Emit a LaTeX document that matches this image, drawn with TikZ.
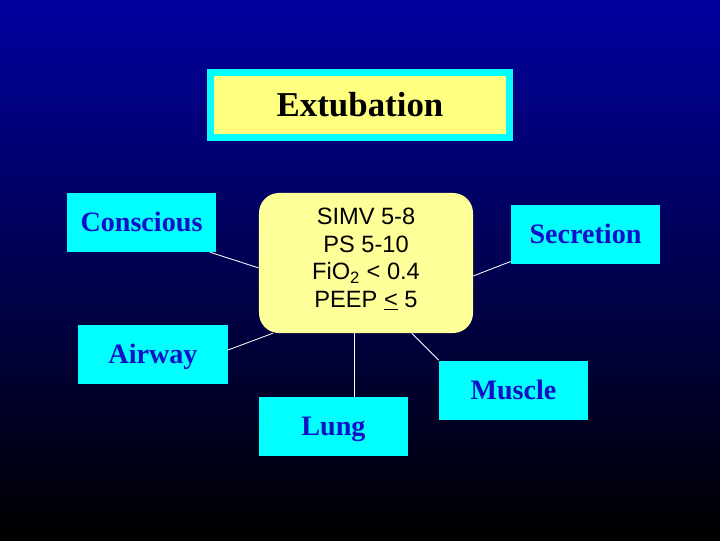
\documentclass[tikz,border=0pt]{standalone}
\usepackage{fontspec}
\setmainfont{Liberation Serif}
\newfontfamily\arialfont{Liberation Sans}
\definecolor{bgtop}{RGB}{0,0,160}
\definecolor{boxcyan}{RGB}{0,255,255}
\definecolor{titleyellow}{RGB}{255,255,128}
\definecolor{ctryellow}{RGB}{255,255,153}
\definecolor{labelblue}{RGB}{16,16,200}
\begin{document}
\begin{tikzpicture}[x=0.025cm,y=-0.025cm,
  labelbox/.style={fill=boxcyan, minimum width=3.725cm, minimum height=1.475cm, inner sep=0pt,
    text height=13.2pt, text depth=0pt,
    text=labelblue, font=\fontsize{20}{24}\selectfont\bfseries},
  conn/.style={draw=white, line width=0.6pt}]
\shade[top color=bgtop, bottom color=black] (0,0) rectangle (720,540);
\useasboundingbox (0,0) rectangle (720,540);
\node[fill=titleyellow, draw=boxcyan, line width=0.175cm, minimum width=7.475cm, minimum height=1.6cm, inner sep=0pt,
  text height=16.4pt, text depth=0pt,
  font=\fontsize{24.8}{28}\selectfont\bfseries] (title) at (360,105) {Extubation};
\node[fill=ctryellow, rounded corners=0.5cm, minimum width=5.35cm, minimum height=3.5cm, inner sep=0pt] (ctr) at (366,263) {};
\node[align=center, font=\arialfont\fontsize{16.8}{19.6}\selectfont, inner sep=0pt] (ctrtext) at (366,259)
  {SIMV 5-8\\PS 5-10\\FiO\textsubscript{2} < 0.4\\PEEP \underline{<} 5};
\node[labelbox] (cons) at (141.5,222.5) {Conscious};
\node[labelbox] (sec) at (585.5,234.5) {Secretion};
\node[labelbox] (air) at (153,354) {Airway};
\node[labelbox] (lung) at (333.5,426.5) {Lung};
\node[labelbox] (mus) at (513.5,390) {Muscle};
\draw[conn] ([xshift=-4.3pt]cons.south east) -- ([yshift=-3.5pt]ctr.west);
\draw[conn] ([yshift=2pt]sec.south west) -- ([yshift=-9.2pt]ctr.east);
\draw[conn] ([yshift=2.8pt]air.east) -- ([xshift=10pt]ctr.south west);
\draw[conn] ([xshift=15.2pt]lung.north) -- ([xshift=15.2pt]lung.north |- ctr.south);
\draw[conn] (mus.north west) -- ([xshift=32.6pt]ctr.south);
\end{tikzpicture}
\end{document}
